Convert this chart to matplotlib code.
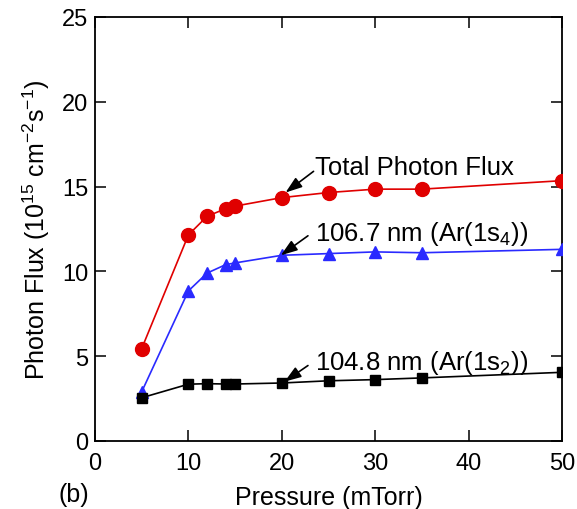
import matplotlib
matplotlib.use("Agg")
from matplotlib import pyplot as plt

plt.rcParams["font.family"] = ["Liberation Sans", "DejaVu Sans"]
plt.rcParams["mathtext.fontset"] = "custom"
plt.rcParams["mathtext.rm"] = "Liberation Sans"

# data
pressure = [5, 10, 12, 14, 15, 20, 25, 30, 35, 50]
total = [5.45, 12.15, 13.25, 13.7, 13.85, 14.35, 14.65, 14.85, 14.85, 15.35]
ar1s4 = [2.9, 8.85, 9.9, 10.4, 10.5, 10.95, 11.05, 11.15, 11.1, 11.3]
ar1s2 = [2.55, 3.35, 3.38, 3.36, 3.36, 3.42, 3.55, 3.62, 3.72, 4.05]

labels = ["Total Photon Flux", "106.7 nm (Ar(1s$_4$))", "104.8 nm (Ar(1s$_2$))"]
label_xy = [(23.6, 16.3), (23.6, 12.5), (23.6, 4.85)]
arrow_tail = [(23.4, 15.9), (22.8, 12.1), (22.8, 4.45)]
arrow_tip = [(20.4, 14.65), (19.9, 10.95), (20.3, 3.5)]

fig = plt.figure(figsize=(5.77, 5.10), dpi=100)
ax = fig.add_axes([95 / 577, 68 / 510, 467 / 577, 424 / 510])

ax.plot(pressure, total, "-o", color="#e00000", ms=10, lw=1.2, zorder=3)
ax.plot(pressure, ar1s4, "-^", color="#2a2aff", ms=8, lw=1.2, zorder=4)
ax.plot(pressure, ar1s2, "-s", color="black", ms=7.5, lw=1.2, zorder=5)

arrow = dict(arrowstyle="-|>,head_length=1.0,head_width=0.35", color="black",
             lw=1.2, shrinkA=0, shrinkB=0)
for lab, xy, tail, tip in zip(labels, label_xy, arrow_tail, arrow_tip):
    ax.text(xy[0], xy[1], lab, fontsize=18.5, va="center_baseline")
    ax.annotate("", xy=tip, xytext=tail, arrowprops=arrow, zorder=6)

ax.set_xlim(0, 50)
ax.set_ylim(0, 25)
ax.set_xticks(range(0, 51, 10))
ax.set_yticks(range(0, 26, 5))
ax.tick_params(direction="in", length=8, width=1.1, top=True, right=True,
               labelsize=17)
ax.tick_params(axis="x", pad=8)
ax.tick_params(axis="y", pad=5)
for s in ax.spines.values():
    s.set_linewidth(1.3)

ax.set_xlabel("Pressure (mTorr)", fontsize=18, labelpad=8)
ax.set_ylabel("Photon Flux (10$^{15}$ cm$^{-2}$s$^{-1}$)", fontsize=18, labelpad=7)
fig.text(74 / 577, 1 - 495 / 510, "(b)", fontsize=18, va="center", ha="center")

plt.savefig("out.png", dpi=100)
